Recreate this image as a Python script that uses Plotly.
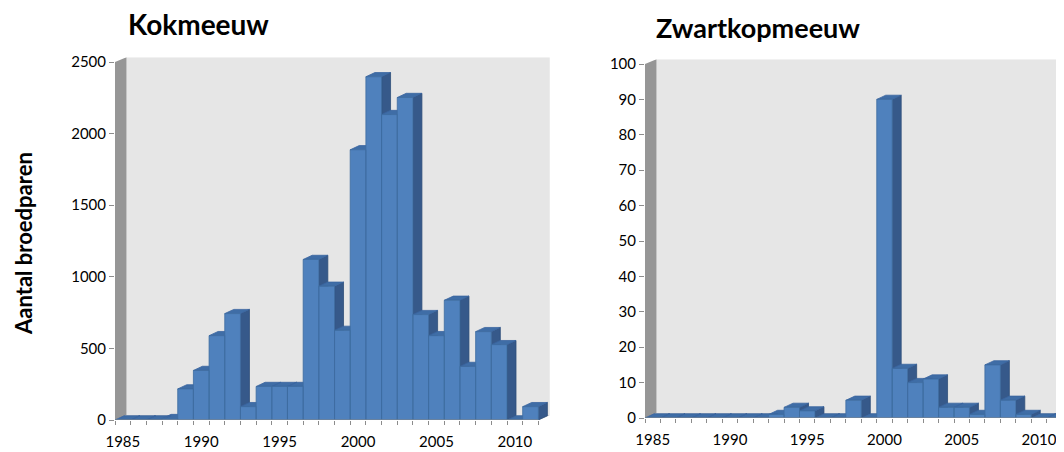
import plotly.graph_objects as go

# ---------------- data ----------------
years = list(range(1985, 2012))
kokmeeuw = [0, 0, 0, 10, 217, 346, 589, 743, 93, 234, 234, 234, 1121, 934, 626,
            1887, 2397, 2133, 2252, 736, 589, 836, 374, 617, 526, 0, 93]
zwartkopmeeuw = [0, 0, 0, 0, 0, 0, 0, 0, 1, 3, 2, 0, 0, 5, 0,
                 90, 14, 10, 11, 3, 3, 1, 15, 5, 1, 0, 0]
kok_yticks = [0, 500, 1000, 1500, 2000, 2500]
zwk_yticks = [0, 10, 20, 30, 40, 50, 60, 70, 80, 90, 100]
label_years = [1985, 1990, 1995, 2000, 2005, 2010]
titles = ["Kokmeeuw", "Zwartkopmeeuw"]
y_title = "Aantal broedparen"

# ---------------- geometry (page pixels) ----------------
OFF = 8                      # page body margin
W, H = 1064 - OFF, 452 - OFF  # figure size that fits the window
FONT = "Lato"
FRONT = "#4F81BD"
SIDE = "#36598A"
TOP = "#3F6DA6"
WALL = "#E6E6E6"
SIDEWALL = "#969696"
FLOOR = "#B4B4B4"


def px(x):
    return (x - OFF) / W


def py(y):
    return 1 - (y - OFF) / H


panels = [
    dict(vals=kokmeeuw, yticks=kok_yticks, ymax=2500, x0=115.0, cw=15.68,
         y0=420.0, ytop=62.0, ax="x", ay="y"),
    dict(vals=zwartkopmeeuw, yticks=zwk_yticks, ymax=100, x0=645.0, cw=15.45,
         y0=418.0, ytop=64.0, ax="x2", ay="y2"),
]
WALL_DX, WALL_DY = 11.5, 4.7   # wall depth in px
BAR_DX, BAR_DY = 9.0, 4.2      # bar depth in px

fig = go.Figure()
layout_axes = {}
shapes = []

for k, p in enumerate(panels):
    n = len(years)
    ppu_y = (p["y0"] - p["ytop"]) / p["ymax"]       # px per unit
    wdx = WALL_DX / p["cw"]
    wdy = WALL_DY / ppu_y
    bdx = BAR_DX / p["cw"]
    bdy = BAR_DY / ppu_y
    xa0 = years[0] - 0.5
    xa1 = years[-1] + 0.5
    right_px = p["x0"] + n * p["cw"] + WALL_DX
    right_px_c = min(right_px, W + OFF)
    xr1 = xa0 + (right_px_c - p["x0"]) / p["cw"]
    yr1 = p["ymax"] + wdy
    top_px = p["ytop"] - WALL_DY

    xs = "xaxis" if k == 0 else "xaxis2"
    ys = "yaxis" if k == 0 else "yaxis2"
    layout_axes[xs] = dict(
        domain=[px(p["x0"]), min(1.0, px(right_px_c))], range=[xa0, xr1],
        anchor=p["ay"], showgrid=False, zeroline=False, showline=False,
        automargin=False,
        tickmode="array", tickvals=label_years,
        ticktext=[str(v) for v in label_years], ticks="",
        ticklabelstandoff=11,
        tickfont=dict(family=FONT, size=15, color="black"),
        minor=dict(tickmode="array",
                   tickvals=[y - 0.5 for y in years] + [years[-1] + 0.5],
                   ticks="outside", ticklen=4, tickcolor="#8C8C8C", tickwidth=1,
                   showgrid=False),
        fixedrange=True,
    )
    layout_axes[ys] = dict(
        domain=[py(p["y0"]), py(top_px)], range=[0, yr1],
        anchor=p["ax"], showgrid=False, zeroline=False, showline=False,
        automargin=False,
        tickmode="array", tickvals=p["yticks"], ticks="outside", ticklen=5,
        tickcolor="#8C8C8C", tickwidth=1,
        tickfont=dict(family=FONT, size=15, color="black"),
        fixedrange=True,
    )

    # walls / floor
    shapes.append(dict(type="path", xref=p["ax"], yref=p["ay"], layer="below",
                       path=f"M{xa0+wdx},{wdy} L{xa1+wdx},{wdy} L{xa1+wdx},{yr1} L{xa0+wdx},{yr1} Z",
                       fillcolor=WALL, line=dict(width=0)))
    shapes.append(dict(type="path", xref=p["ax"], yref=p["ay"], layer="below",
                       path=f"M{xa0},0 L{xa0+wdx},{wdy} L{xa0+wdx},{yr1} L{xa0},{p['ymax']} Z",
                       fillcolor=SIDEWALL, line=dict(width=0)))
    shapes.append(dict(type="path", xref=p["ax"], yref=p["ay"], layer="below",
                       path=f"M{xa0},0 L{xa1},0 L{xa1+wdx},{wdy} L{xa0+wdx},{wdy} Z",
                       fillcolor=FLOOR, line=dict(width=0)))

    fx, fy, sx, sy, tx, ty = [], [], [], [], [], []
    for yr, v in zip(years, p["vals"]):
        a, b = yr - 0.5, yr + 0.5
        fx += [a, b, b, a, a, None]
        fy += [0, 0, v, v, 0, None]
        sx += [b, b + bdx, b + bdx, b, b, None]
        sy += [0, bdy, v + bdy, v, 0, None]
        tx += [a, b, b + bdx, a + bdx, a, None]
        ty += [v, v, v + bdy, v + bdy, v, None]

    for xx, yy, col, lc in [(sx, sy, SIDE, "#2F4E78"), (tx, ty, TOP, "#3A65A0"),
                            (fx, fy, FRONT, "#3E6C9F")]:
        fig.add_trace(go.Scatter(x=xx, y=yy, mode="lines", fill="toself",
                                 fillcolor=col, line=dict(color=lc, width=0.8),
                                 xaxis=p["ax"], yaxis=p["ay"], hoverinfo="skip",
                                 showlegend=False, cliponaxis=True))

    # front axis line
    shapes.append(dict(type="line", xref=p["ax"], yref=p["ay"], x0=xa0, x1=xa1,
                       y0=0, y1=0, line=dict(color="#8C8C8C", width=1)))

annotations = [
    dict(text=f"<b>{titles[0]}</b>", x=px(198), y=py(24), xref="paper", yref="paper",
         xanchor="center", yanchor="middle",
         showarrow=False, font=dict(family=FONT, size=28, color="black")),
    dict(text=f"<b>{titles[1]}</b>", x=px(758), y=py(28), xref="paper", yref="paper",
         xanchor="center", yanchor="middle",
         showarrow=False, font=dict(family=FONT, size=27, color="black")),
    dict(text=f"<b>{y_title}</b>", x=px(23), y=py(244), xref="paper", yref="paper",
         xanchor="center", yanchor="middle",
         showarrow=False, textangle=-90, font=dict(family=FONT, size=22, color="black")),
]

fig.update_layout(width=W, height=H,
                  margin=dict(l=0, r=0, t=0, b=0, pad=0, autoexpand=False),
                  paper_bgcolor="white", plot_bgcolor="white",
                  shapes=shapes, annotations=annotations, showlegend=False,
                  **layout_axes)

fig.write_html("out.html")
